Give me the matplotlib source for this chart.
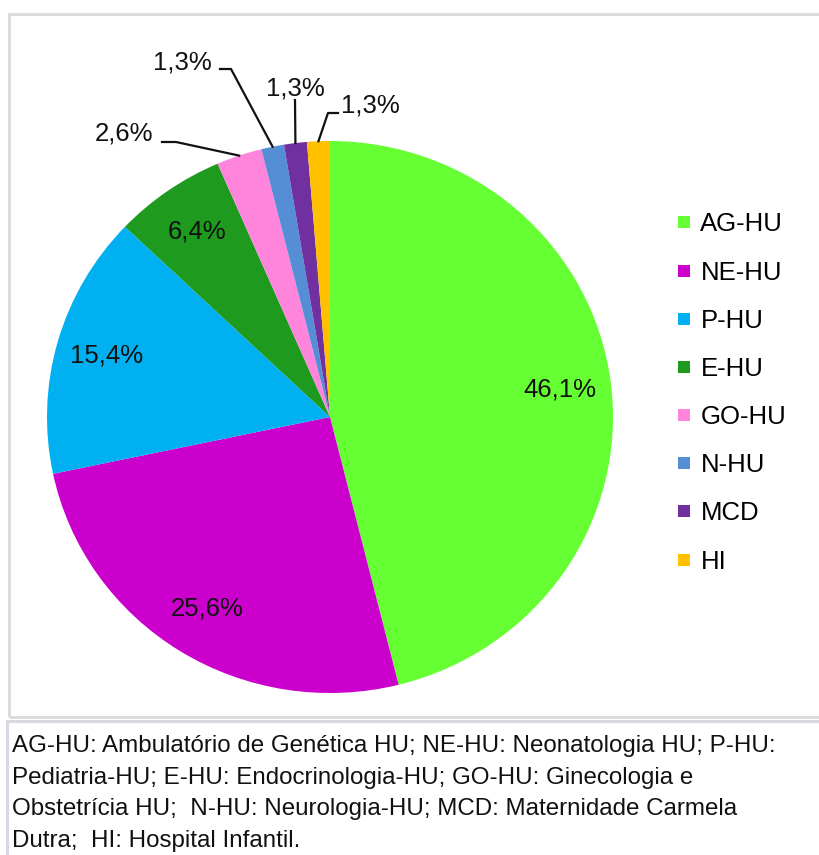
import matplotlib.pyplot as plt
from matplotlib.patches import Rectangle
from matplotlib.lines import Line2D
from matplotlib.transforms import Affine2D
import numpy as np

plt.rcParams['font.family'] = ['Liberation Sans', 'DejaVu Sans']

# dados
categorias = ['AG-HU', 'NE-HU', 'P-HU', 'E-HU', 'GO-HU', 'N-HU', 'MCD', 'HI']
valores = [46.1, 25.6, 15.4, 6.4, 2.6, 1.3, 1.3, 1.3]
cores = ['#66FF33', '#CC00CC', '#00B0F0', '#1E9B1E', '#FF85DC', '#558ED5', '#7030A0', '#FFC000']
legenda_texto = ('AG-HU: Ambulatório de Genética HU; NE-HU: Neonatologia HU; P-HU:\n'
                 'Pediatria-HU; E-HU: Endocrinologia-HU; GO-HU: Ginecologia e\n'
                 'Obstetrícia HU;  N-HU: Neurologia-HU; MCD: Maternidade Carmela\n'
                 'Dutra;  HI: Hospital Infantil.')

W, H = 820, 855
cx, cy, rx, ry = 330, 417, 283, 276

def Y(y):
    return H - y

fig = plt.figure(figsize=(W / 100, H / 100), dpi=100)
ax = fig.add_axes([0, 0, 1, 1])

wedges, _ = ax.pie(valores, colors=cores, startangle=90, counterclock=False,
                   center=(cx, Y(cy)), radius=rx, frame=True,
                   wedgeprops=dict(linewidth=0))
ax.set_xlim(0, W)
ax.set_ylim(0, H)
ax.set_aspect('equal')
ax.axis('off')

# achatar levemente a pizza na vertical
achata = Affine2D().translate(-cx, -Y(cy)).scale(1, ry / rx).translate(cx, Y(cy))
for w in wedges:
    w.set_transform(achata + ax.transData)

# molduras
ax.add_patch(Rectangle((9, Y(717)), 830, 703, fill=False, ec='#DCDCDC', lw=2.2))
ax.add_patch(Rectangle((7, Y(880)), 830, 159, fill=False, ec='#D6DAE0', lw=2.2))

fs = 18.5
def rotulo(v):
    return f'{v:.1f}'.replace('.', ',') + '%'

# rótulos internos
for w, v in zip(wedges[:4], valores[:4]):
    ang = np.deg2rad((w.theta1 + w.theta2) / 2)
    ax.text(cx + 0.82 * rx * np.cos(ang), Y(cy) + 0.82 * ry * np.sin(ang), rotulo(v),
            ha='center', va='center', fontsize=fs, color='#111111')

# rótulos externos com linhas de chamada
externos = {
    4: ((124, 133), [(162, 142), (176, 142)]),
    5: ((182, 62), [(220, 69), (231, 69)]),
    6: ((295, 88), [(295, 100)]),
    7: ((370, 105), [(338, 113), (328, 113)]),
}
for i, ((tx, ty), pts) in externos.items():
    w = wedges[i]
    ang = np.deg2rad((w.theta1 + w.theta2) / 2)
    ex, ey = cx + rx * np.cos(ang), Y(cy) + ry * np.sin(ang)
    xs = [p[0] for p in pts] + [ex]
    ys = [Y(p[1]) for p in pts] + [ey]
    ax.plot(xs, ys, color='#111111', lw=1.6)
    ax.text(tx, Y(ty), rotulo(valores[i]), ha='center', va='center',
            fontsize=fs, color='#111111')

# legenda
handles = [Line2D([], [], marker='s', ls='none', markersize=8.5, markerfacecolor=c,
                  markeredgewidth=0) for c in cores]
ax.legend(handles, categorias, loc='center left', bbox_to_anchor=(676, Y(393)),
          bbox_transform=ax.transData, frameon=False, fontsize=fs,
          handlelength=0.6, handletextpad=0.35, labelspacing=0.94, borderpad=0,
          borderaxespad=0)

ax.text(12, Y(735), legenda_texto, ha='left', va='top', fontsize=17.4,
        color='#111111', linespacing=1.57)

fig.savefig('out.png', dpi=100)
